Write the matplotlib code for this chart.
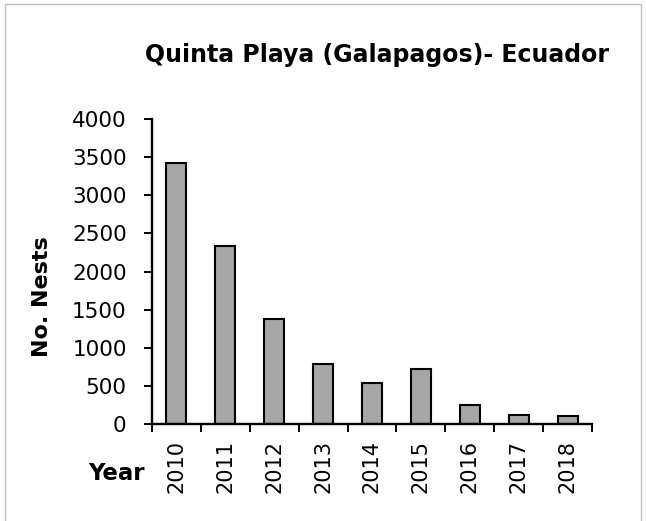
import numpy as np
import matplotlib
matplotlib.use('Agg')
import matplotlib.pyplot as plt
from matplotlib.patches import Rectangle

years = ['2010', '2011', '2012', '2013', '2014', '2015', '2016', '2017', '2018']
nests = [3430, 2340, 1380, 785, 530, 715, 245, 115, 105]

plt.rcParams['font.family'] = 'DejaVu Sans'

W, H = 646, 521
fig = plt.figure(figsize=(W / 100, H / 100), dpi=100)
ax = fig.add_axes([151.7 / W, 1 - 423.7 / H, (592.3 - 151.7) / W, (423.7 - 119.3) / H])

x = np.arange(len(years))
ax.bar(x, nests, width=0.42, color='#A6A6A6', edgecolor='black', linewidth=1.5, zorder=2)

ax.set_xlim(-0.5, len(years) - 0.5)
ax.set_ylim(0, 4000)
ax.set_yticks(np.arange(0, 4001, 500))
ax.tick_params(axis='y', direction='out', length=6, width=1.4, labelsize=15.5, pad=12)

# ticks between categories, labels at the centres
ax.set_xticks(np.arange(-0.5, len(years), 1.0))
ax.set_xticklabels([])
ax.set_xticks(x, minor=True)
ax.set_xticklabels(years, minor=True, rotation=90, fontsize=15)
ax.tick_params(axis='x', which='major', direction='out', length=6, width=1.4)
ax.tick_params(axis='x', which='minor', length=0, pad=12)

for s in ['top', 'right']:
    ax.spines[s].set_visible(False)
for s in ['left', 'bottom']:
    ax.spines[s].set_linewidth(1.7)

fig.text(377 / W, 1 - 55 / H, 'Quinta Playa (Galapagos)- Ecuador',
         ha='center', va='center', fontsize=17, fontweight='bold')
fig.text(42 / W, 1 - 297 / H, 'No. Nests', rotation=90,
         ha='center', va='center', fontsize=16, fontweight='bold')
fig.text(145 / W, 1 - 473 / H, 'Year', ha='right', va='center',
         fontsize=16.5, fontweight='bold')

# chart border
fig.patches.append(Rectangle((4.5 / W, -0.01), (641 - 4.5) / W, 1 - 3.5 / H + 0.01,
                             transform=fig.transFigure, fill=False,
                             edgecolor='#BFBFBF', linewidth=1.0))

fig.savefig('out.png', dpi=100)
